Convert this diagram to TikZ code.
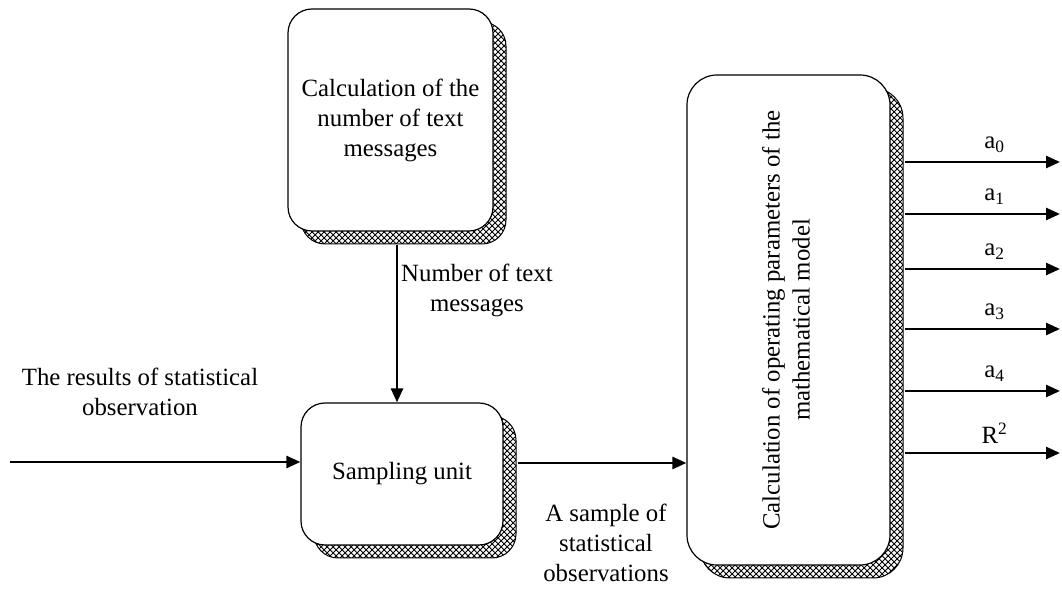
\documentclass[tikz,border=0pt]{standalone}
\usepackage{fontspec}
\setmainfont{Liberation Serif}
\usetikzlibrary{arrows.meta,patterns,positioning}

\tikzset{
  block/.style={draw, line width=0.6pt, fill=white, rounded corners=12pt,
    align=center, inner sep=0pt,
    preaction={draw, line width=0.5pt, pattern=crosshatch,
      transform canvas={shift={(6.5pt,-6.5pt)}}}},
  arr/.style={-{Triangle[length=7pt,width=6pt]}, line width=1.3pt},
  lbl/.style={align=center},
}

\begin{document}
\begin{tikzpicture}[x=0.5pt,y=-0.5pt]
    \fontsize{12.4}{15}\selectfont
    \useasboundingbox (0,0) rectangle (1062,592);

    \node[block, minimum width=102.5pt, minimum height=111pt] (calc) at (390.5,120)
        {Calculation of the\\number of text\\messages};
    \node[block, minimum width=101pt, minimum height=71pt] (samp) at (402,474)
        {\raisebox{-3pt}{Sampling unit}};
    \node[block, minimum width=101.5pt, minimum height=245pt, rounded corners=15pt] (model) at (788.5,320)
        {\rotatebox{90}{\begin{tabular}{@{}c@{}}Calculation of operating parameters of the\\mathematical model\end{tabular}}};

    % input
    \coordinate (src) at (10,462);
    \draw[arr] (src) -- (samp.west |- src);
    \node[lbl] (srclbl) at (140,392) {The results of statistical\\observation};

    % count of messages
    \draw[arr] ([xshift=3.25pt,yshift=-6.5pt]calc.south) -- ([xshift=3.25pt]calc.south |- samp.north);
    \node[lbl] (cntlbl) at (477,290) {Number of text\\messages};

    % sample
    \draw[arr] ([xshift=7pt,yshift=5.5pt]samp.east) -- ([yshift=5.5pt]samp.east -| model.west);
    \node[lbl] (smplbl) at (606,543) {A sample of\\statistical\\observations};

    % outputs
    \foreach \y/\t in {162/{a\textsubscript{0}}, 214/{a\textsubscript{1}}, 269/{a\textsubscript{2}},
                       329/{a\textsubscript{3}}, 391/{a\textsubscript{4}}, 453/{R\textsuperscript{2}}}
        \draw[arr] (model.east |- 0,\y) ++(7pt,0) -- (1060,\y) node[above, pos=0.58] {\t};
\end{tikzpicture}
\end{document}
